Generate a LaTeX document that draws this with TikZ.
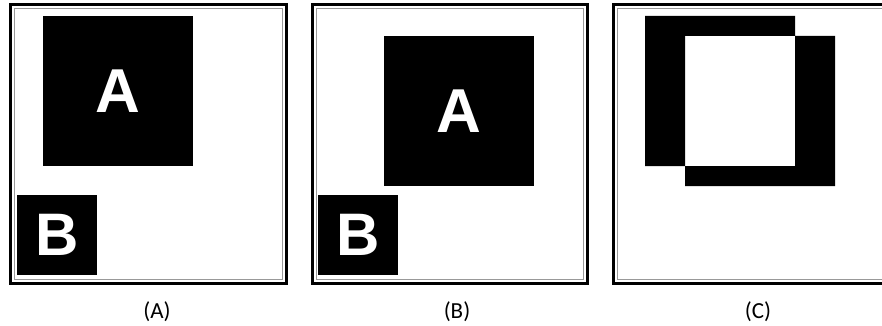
\documentclass[tikz,border=0pt]{standalone}
\usepackage{fontspec}
\setmainfont{Carlito}
\newfontfamily\letterfont{Liberation Sans}
\usetikzlibrary{positioning}

\begin{document}
\begin{tikzpicture}[x=1pt, y=-1pt,
    frame/.style={draw=black, line width=3pt},
    rim/.style={draw=black!40, line width=0.8pt},
    bigsq/.style={fill=black, text=white, inner sep=0pt, minimum size=150pt, font=\letterfont\bfseries\fontsize{62}{62}\selectfont},
    smallsq/.style={fill=black, text=white, inner sep=0pt, minimum size=80pt, font=\letterfont\bfseries\fontsize{60}{60}\selectfont},
    panelcap/.style={anchor=base, font=\fontsize{23}{26}\selectfont}]
    \clip (0,0) rectangle (882,326);
    \fill[white] (0,0) rectangle (882,326);

    % panel frames
    \draw[frame] (10.5,4.5) rectangle (286.5,283.5);
    \draw[rim] (14.5,8.5) rectangle (282.5,279.5);
    \draw[frame] (312.5,4.5) rectangle (587.5,283.5);
    \draw[rim] (316.5,8.5) rectangle (583.5,279.5);
    \draw[frame] (613.5,4.5) rectangle (900,283.5);
    \draw[rim] (617.5,8.5) rectangle (896,279.5);

    % (A)
    \node[bigsq] (sqA) at (118,91) {A};
    \node[smallsq] (sqB) at (57,234.5) {B};
    \node[panelcap] (capA) at (157,318) {(A)};

    % (B)
    \node[bigsq] (movA) at (459,111) {A};
    \node[smallsq] (movB) at (358,234.5) {B};
    \node[panelcap] (capB) at (457,318) {(B)};

    % (C)
    \fill[black, even odd rule] (645,16) rectangle (795,166) (685,36) rectangle (835,186);
    \node[panelcap] (capC) at (758,318) {(C)};
\end{tikzpicture}
\end{document}
